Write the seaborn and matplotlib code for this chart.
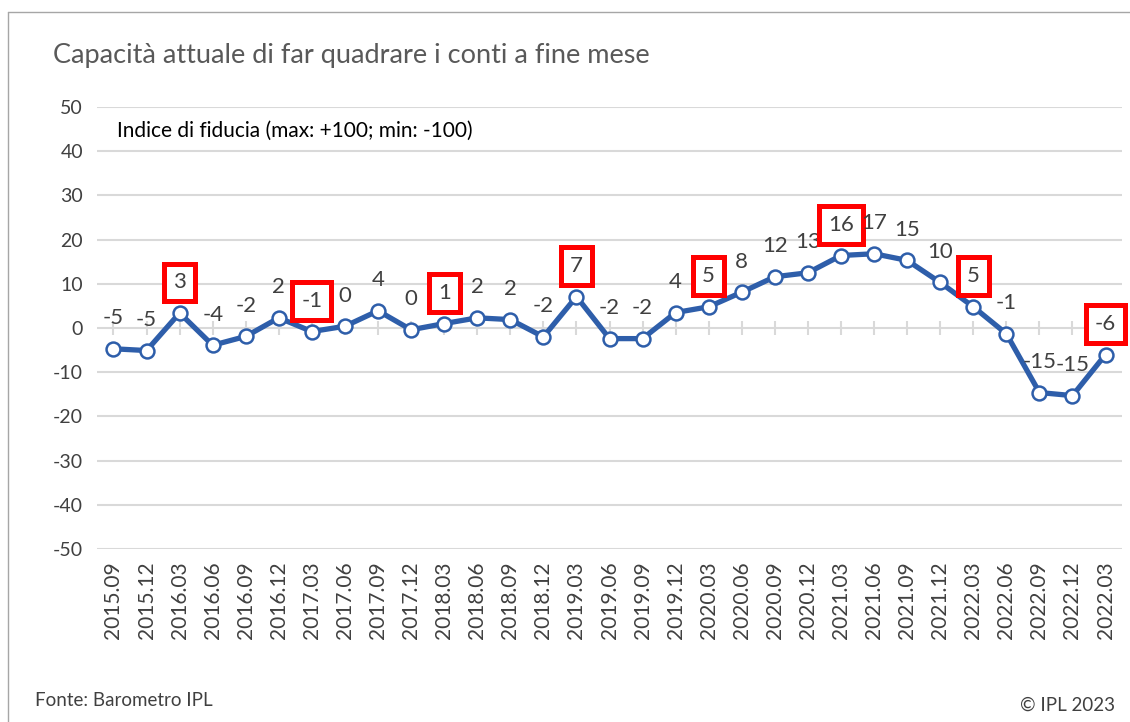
import numpy as np
import pandas as pd
import seaborn as sns
import matplotlib.pyplot as plt
from matplotlib.lines import Line2D

# data
periods = ['2015.09', '2015.12', '2016.03', '2016.06', '2016.09', '2016.12',
           '2017.03', '2017.06', '2017.09', '2017.12', '2018.03', '2018.06',
           '2018.09', '2018.12', '2019.03', '2019.06', '2019.09', '2019.12',
           '2020.03', '2020.06', '2020.09', '2020.12', '2021.03', '2021.06',
           '2021.09', '2021.12', '2022.03', '2022.06', '2022.09', '2022.12',
           '2022.03']
values = [-4.7, -5.1, 3.4, -3.9, -1.9, 2.3, -0.8, 0.4, 3.9, -0.4, 1.0, 2.3,
          1.9, -2.0, 7.1, -2.4, -2.4, 3.5, 4.8, 8.1, 11.6, 12.5, 16.4, 16.8,
          15.3, 10.3, 4.8, -1.3, -14.6, -15.3, -6.0]
labels = ['-5', '-5', '3', '-4', '-2', '2', '-1', '0', '4', '0', '1', '2',
          '2', '-2', '7', '-2', '-2', '4', '5', '8', '12', '13', '16', '17',
          '15', '10', '5', '-1', '-15', '-15', '-6']
highlighted = [2, 6, 10, 14, 18, 22, 26, 30]
y_ticks = [-50, -40, -30, -20, -10, 0, 10, 20, 30, 40, 50]

blue = '#2E5EAA'
grey_text = '#404040'
grid_grey = '#D9D9D9'
red = '#FF0000'

sns.set_theme(style='white')
plt.rcParams['font.family'] = ['Lato', 'DejaVu Sans']

df = pd.DataFrame({'pos': np.arange(len(periods)), 'value': values})

fig = plt.figure(figsize=(11.3, 7.22), dpi=100)
ax = fig.add_axes([0.0858, 0.2396, 0.9072, 0.6122])

sns.lineplot(data=df, x='pos', y='value', ax=ax, color=blue, linewidth=3.8,
             marker='o', markersize=10, markerfacecolor='white',
             markeredgecolor=blue, markeredgewidth=1.8, zorder=3)

ax.set_xlim(-0.5, len(periods) - 0.5)
ax.set_ylim(-50, 50)
ax.set_yticks(y_ticks)
ax.set_yticklabels([str(t) for t in y_ticks], fontsize=14, color=grey_text)
ax.set_xticks(df['pos'])
ax.set_xticklabels(periods, rotation=90, fontsize=15, color=grey_text)
ax.tick_params(axis='y', length=0, pad=10)
ax.tick_params(axis='x', length=0, pad=9)
ax.set_xlabel('')
ax.set_ylabel('')
ax.grid(axis='y', color=grid_grey, linewidth=1.5)
ax.grid(axis='x', visible=False)
for s in ax.spines.values():
    s.set_visible(False)

# tick marks along the zero line
sec = ax.secondary_xaxis(0.5)
sec.set_xticks(df['pos'])
sec.set_xticklabels([])
sec.tick_params(direction='inout', length=10, width=1.5, color=grid_grey)
sec.spines['top'].set_visible(False)
sec.spines['bottom'].set_visible(False)

# data labels
for i, (v, lab) in enumerate(zip(values, labels)):
    kw = {}
    if i in highlighted:
        kw['bbox'] = dict(boxstyle='square,pad=0.4', facecolor='white',
                          edgecolor=red, linewidth=3.6)
    ax.annotate(lab, (i, v), xytext=(0, 22), textcoords='offset points',
                ha='center', va='center', fontsize=16, color=grey_text,
                zorder=4, **kw)

ax.text(0.02, 0.945, 'Indice di fiducia (max: +100; min: -100)',
        transform=ax.transAxes, fontsize=15, color='black', va='center')

fig.text(53 / 1130, 1 - 55 / 722,
         'Capacità attuale di far quadrare i conti a fine mese',
         fontsize=19.5, color='#595959', va='center')
fig.text(35 / 1130, 1 - 700 / 722, 'Fonte: Barometro IPL',
         fontsize=13.5, color=grey_text, va='center')
fig.text(1115 / 1130, 1 - 705 / 722, '© IPL 2023',
         fontsize=13.5, color=grey_text, va='center', ha='right')

# outer frame (left and top edges)
fig.add_artist(Line2D([8 / 1130, 8 / 1130], [0, 1 - 12 / 722],
                      transform=fig.transFigure, color='#A6A6A6', lw=1))
fig.add_artist(Line2D([8 / 1130, 1], [1 - 12 / 722, 1 - 12 / 722],
                      transform=fig.transFigure, color='#A6A6A6', lw=1))

fig.savefig('out.png', dpi=100)
plt.close(fig)
